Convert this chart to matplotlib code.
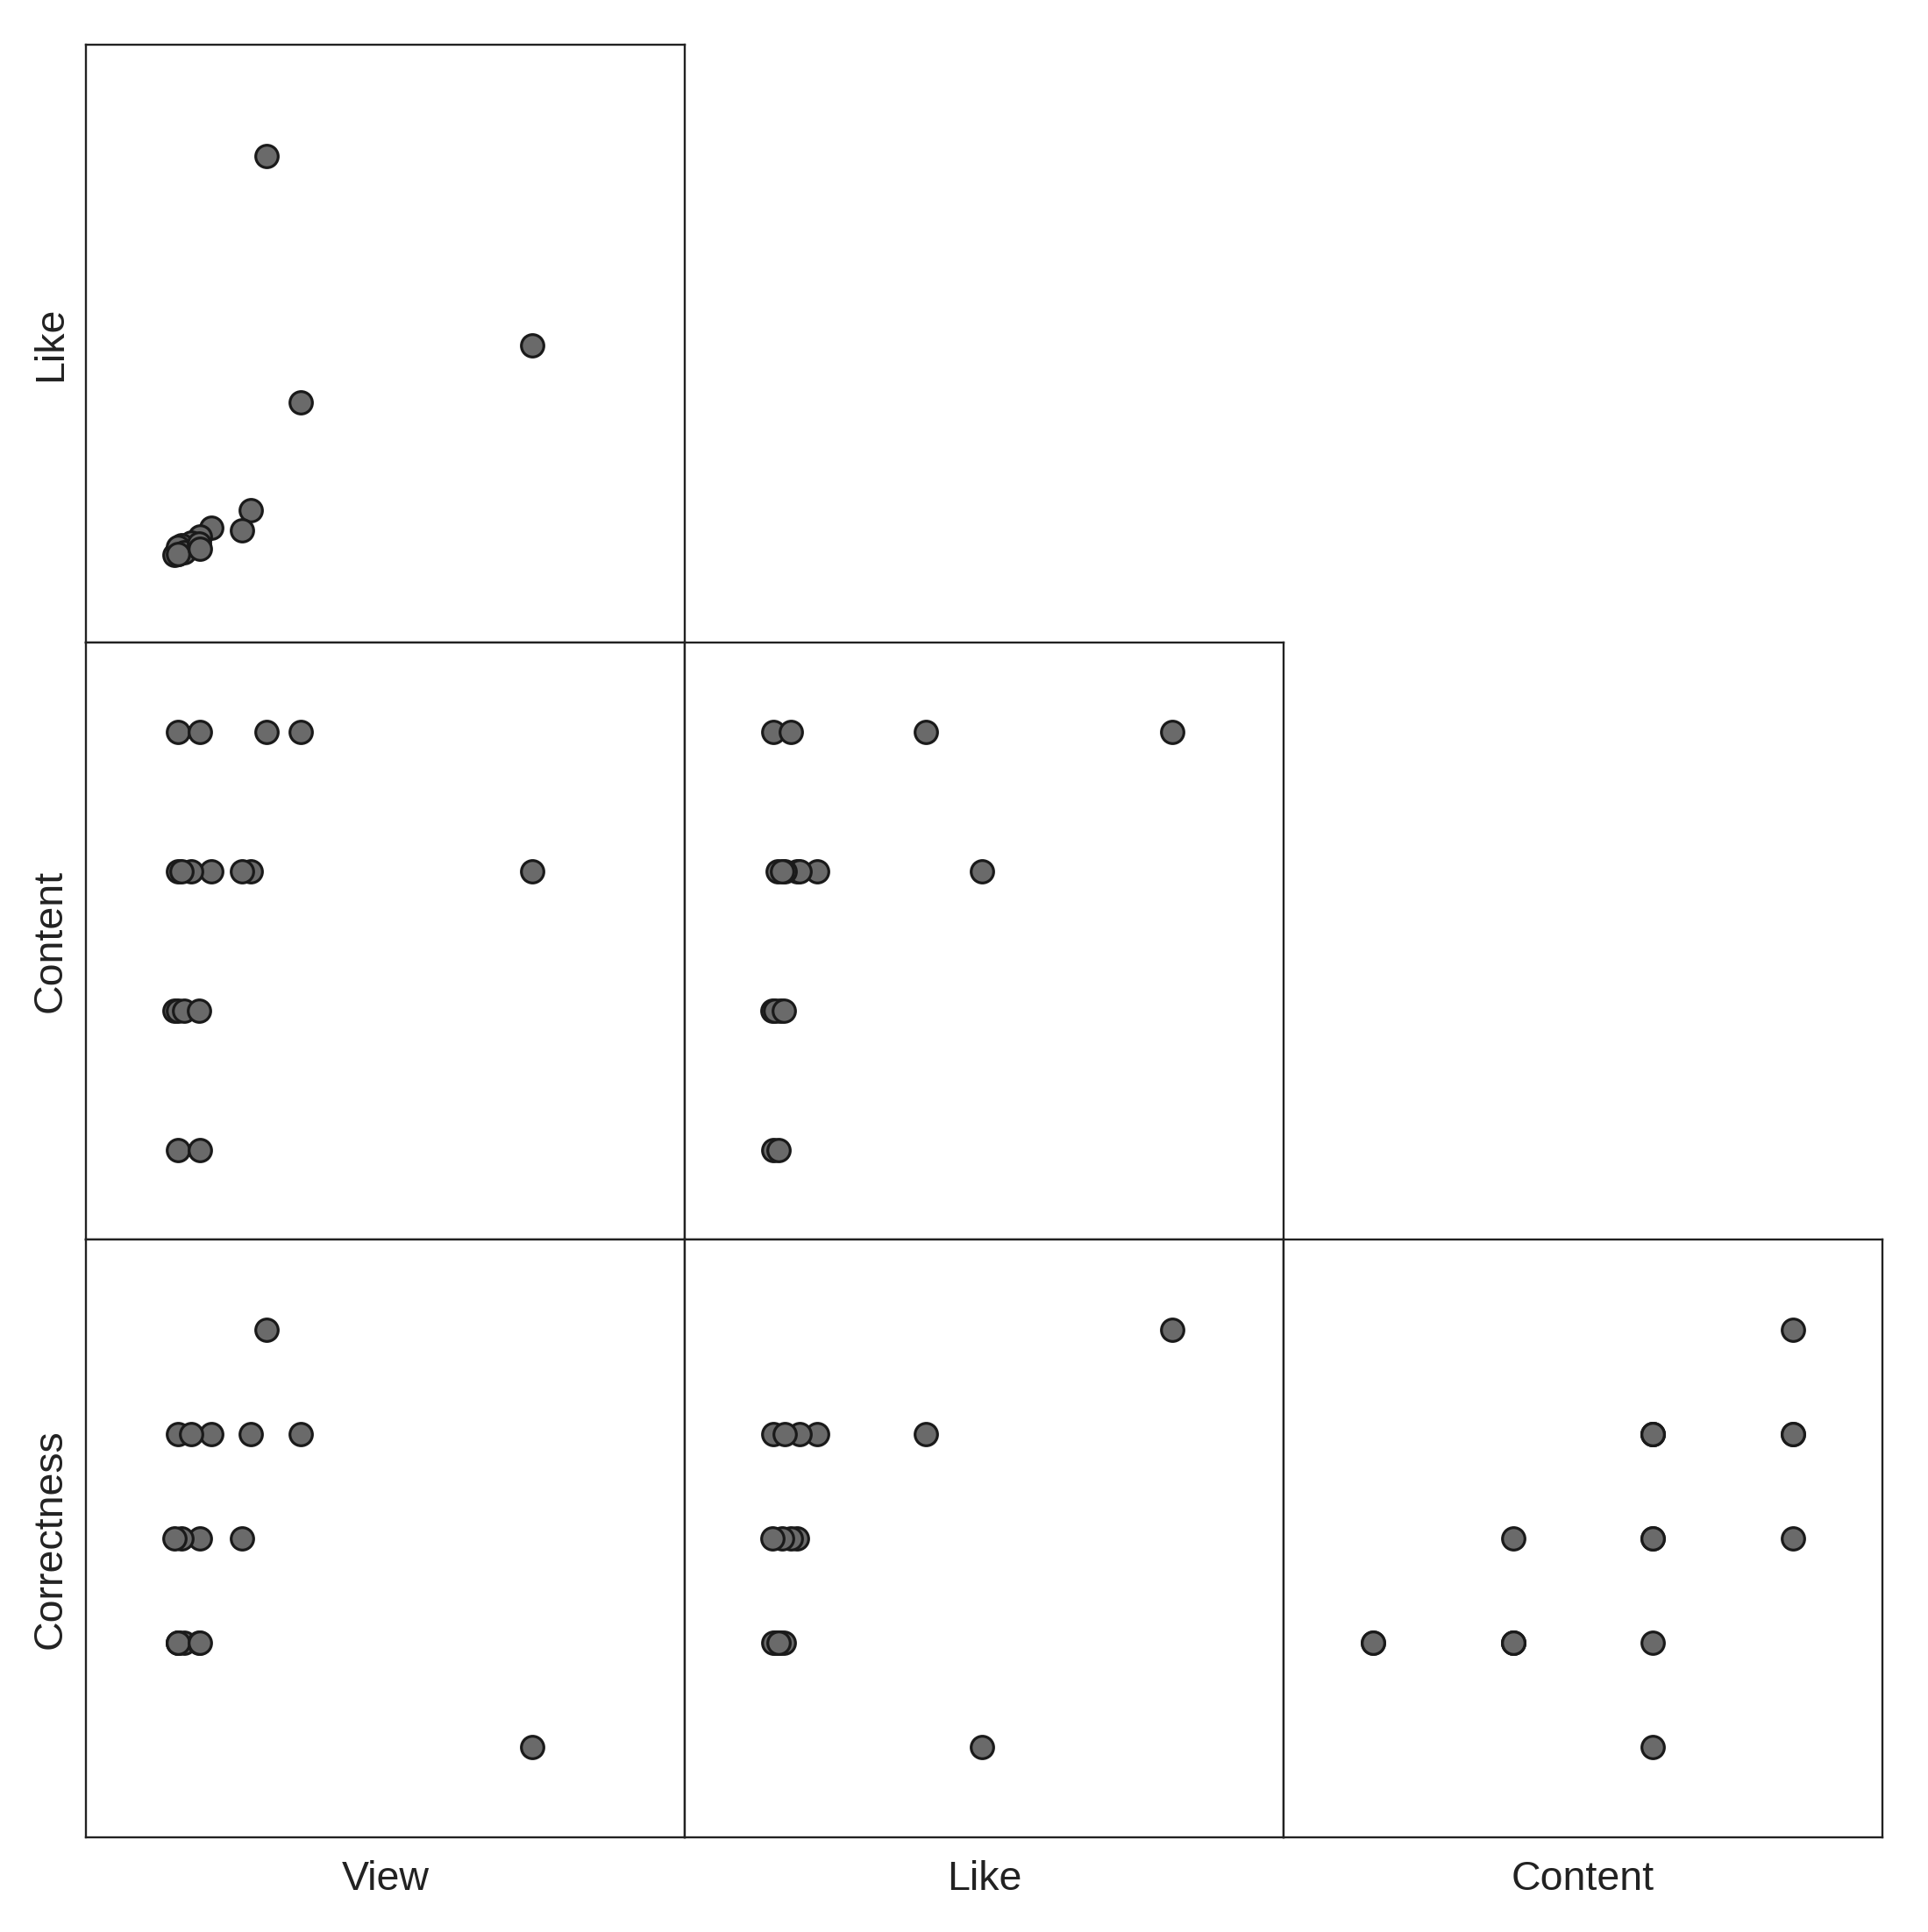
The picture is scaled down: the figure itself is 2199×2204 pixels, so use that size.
import matplotlib
matplotlib.use("Agg")
import matplotlib.pyplot as plt

# one entry per observation
view = [30.2, 74.5, 35.9, 27.5, 26.1, 20.9, 15.4, 19.1, 17.5, 15.4, 16.0,
        14.8, 15.4, 16.4, 18.9, 15.4, 19.1]
like = [81.4, 49.7, 40.2, 22.1, 18.8, 19.2, 14.8, 17.7, 16.7, 15.5, 16.3,
        14.6, 15.9, 15.1, 16.5, 14.8, 15.7]
content = [4, 3, 4, 3, 3, 3, 4, 4, 3, 3, 3, 2, 2, 2, 2, 1, 1]
correctness = [5, 1, 4, 4, 3, 4, 4, 3, 4, 2, 3, 3, 2, 2, 2, 2, 2]

names = ["View", "Like", "Content", "Correctness"]
values = [view, like, content, correctness]
limits = [(0, 100), (0, 100), (0.36, 4.64), (0.135, 5.865)]

plt.rcParams['font.family'] = ['Liberation Sans', 'DejaVu Sans']

W, H = 2199, 2204
fig = plt.figure(figsize=(W / 100, H / 100), dpi=100)

left0, top0 = 98, 51
cw, ch = 683, 681.7

for r in range(3):          # rows: Like, Content, Correctness
    yi = r + 1
    for c in range(r + 1):  # cols: View, Like, Content
        xi = c
        x0 = left0 + c * cw
        y0 = H - (top0 + (r + 1) * ch)
        ax = fig.add_axes([x0 / W, y0 / H, cw / W, ch / H])
        ax.scatter(values[xi], values[yi], s=340, c='#6a6a6a',
                   edgecolors='#1a1a1a', linewidths=2.3, zorder=3)
        ax.set_xlim(limits[xi])
        ax.set_ylim(limits[yi])
        ax.set_xticks([])
        ax.set_yticks([])
        for sp in ax.spines.values():
            sp.set_linewidth(1.7)
            sp.set_color('#222222')
        if r == 2:
            ax.set_xlabel(names[xi], fontsize=33.5, color='#222222', labelpad=19)
        if c == 0:
            ax.set_ylabel(names[yi], fontsize=33.5, color='#222222', labelpad=13)

fig.savefig("out.png", dpi=100)
